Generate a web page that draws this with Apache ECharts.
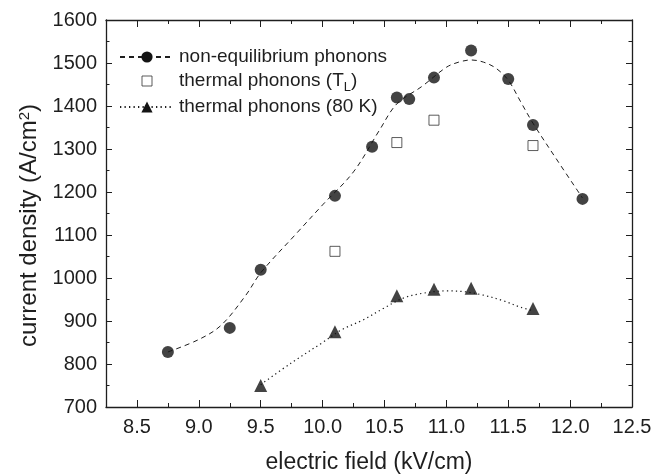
<!DOCTYPE html>
<html>
<head>
<meta charset="utf-8">
<script src="https://cdn.jsdelivr.net/npm/echarts@6/dist/echarts.min.js"></script>
<style>
html,body{margin:0;padding:0;background:#fff;}
#c{width:667px;height:474px;}
</style>
</head>
<body>
<div id="c"></div>
<script>
// ---- data ----
var neqField   = [8.75, 9.25, 9.5, 10.1, 10.4, 10.6, 10.7, 10.9, 11.2, 11.5, 11.7, 12.1];
var neqCurrent = [828, 884, 1019, 1191, 1305, 1420, 1416, 1466, 1529, 1463, 1356, 1184];

var tlField    = [10.1, 10.6, 10.9, 11.7];
var tlCurrent  = [1062, 1315, 1367, 1308];

var k80Field   = [9.5, 10.1, 10.6, 10.9, 11.2, 11.7];
var k80Current = [750, 875, 959, 974, 976, 929];

// fitted guide curves
var neqFitField   = [8.75, 9.0, 9.18, 9.38, 9.5, 9.79, 10.0, 10.25, 10.46, 10.6, 10.8, 11.0, 11.1, 11.2, 11.3, 11.4, 11.5, 11.6, 11.7, 11.9, 12.1];
var neqFitCurrent = [828, 857, 890, 960, 1012, 1104, 1170, 1247, 1344, 1405, 1445, 1490, 1502, 1507, 1502, 1488, 1460, 1410, 1360, 1272, 1186];

var k80FitField   = [9.5, 9.75, 10.0, 10.15, 10.33, 10.49, 10.65, 10.8, 11.0, 11.15, 11.3, 11.46, 11.6, 11.7];
var k80FitCurrent = [752, 803, 850, 879, 903, 929, 953, 964, 970, 968, 960, 947, 932, 924];

var xTickLabels = [8.5, 9.0, 9.5, 10.0, 10.5, 11.0, 11.5, 12.0, 12.5];
var yTickLabels = [700, 800, 900, 1000, 1100, 1200, 1300, 1400, 1500, 1600];

var names = ['non-equilibrium phonons', 'thermal phonons (TL)', 'thermal phonons (80 K)'];

function pairs(xs, ys){ return xs.map(function(x,i){ return [x, ys[i]]; }); }

var FONT = '"Liberation Sans", Arial, Helvetica, sans-serif';
var INK = '#1e1e1e';
var MARK = '#141414';
var xMin = 8.25, xMax = 12.5, yMin = 700, yMax = 1600;

var chart = echarts.init(document.getElementById('c'), null, {renderer:'canvas'});

function xAxisBase(pos){
  return {
    type:'value', position:pos, min:xMin, max:xMax, gridIndex:0,
    axisLine:{show:true, onZero:false, lineStyle:{color:INK, width:1.3}},
    splitLine:{show:false}
  };
}
function yAxisBase(pos){
  return {
    type:'value', position:pos, min:yMin, max:yMax, interval:100, gridIndex:0,
    axisLine:{show:true, onZero:false, lineStyle:{color:INK, width:1.3}},
    axisTick:{show:true, inside:true, length:6, lineStyle:{color:INK, width:1}},
    minorTick:{show:true, splitNumber:2, length:3.5, lineStyle:{color:INK, width:1}},
    splitLine:{show:false}
  };
}

var xAxes = [];
var xb = xAxisBase('bottom');
xb.axisTick = {show:true, inside:true, length:7, customValues:xTickLabels, lineStyle:{color:INK, width:1}};
xb.axisLabel = {show:true, customValues:xTickLabels, margin:10, fontSize:20, fontFamily:FONT, color:INK,
  formatter:function(v){ return v.toFixed(1); }};
xb.name = 'electric field (kV/cm)';
xb.nameLocation = 'middle';
xb.nameGap = 44;
xb.nameTextStyle = {fontSize:23, fontFamily:FONT, color:INK};
xAxes.push(xb);
var xbm = xAxisBase('bottom');
xbm.interval = 0.25;
xbm.axisLine = {show:false, onZero:false};
xbm.axisTick = {show:true, inside:true, length:4, lineStyle:{color:INK, width:1}};
xbm.axisLabel = {show:false};
xAxes.push(xbm);
var xt = xAxisBase('top');
xt.axisTick = {show:true, inside:true, length:7, customValues:xTickLabels, lineStyle:{color:INK, width:1}};
xt.axisLabel = {show:false, customValues:xTickLabels};
xAxes.push(xt);
var xtm = xAxisBase('top');
xtm.interval = 0.25;
xtm.axisLine = {show:false, onZero:false};
xtm.axisTick = {show:true, inside:true, length:4, lineStyle:{color:INK, width:1}};
xtm.axisLabel = {show:false};
xAxes.push(xtm);

var yl = yAxisBase('left');
yl.axisLabel = {show:true, customValues:yTickLabels, margin:9, fontSize:20, fontFamily:FONT, color:INK,
  formatter:function(v){ return String(v); }};
yl.name = 'current density (A/cm{sup|2})';
yl.nameLocation = 'middle';
yl.nameGap = 55;
yl.nameTextStyle = {fontSize:24, fontFamily:FONT, color:INK, padding:[0,24,0,0],
  rich:{sup:{fontSize:15, fontFamily:FONT, color:INK, verticalAlign:'top', lineHeight:15}}};
var yr = yAxisBase('right');
yr.axisLabel = {show:false};

var option = {
  animation:false,
  backgroundColor:'#fff',
  grid:{left:106, right:35, top:20, bottom:67, containLabel:false, outerBoundsMode:'none'},
  legend:{
    left:119, top:46, orient:'vertical', padding:0, itemGap:2,
    itemWidth:54, itemHeight:14, symbolKeepAspect:true,
    textStyle:{fontSize:19, fontFamily:FONT, color:INK, lineHeight:22,
      rich:{sub:{fontSize:13, fontFamily:FONT, color:INK, verticalAlign:'bottom', lineHeight:13, padding:[0,0,-2,0]}}},
    formatter:function(n){ return n === names[1] ? 'thermal phonons (T{sub|L})' : n; },
    data:[
      {name:names[0]},
      {name:names[1], icon:'path://M0,0M14,14M2,2H12V12H2Z', itemStyle:{color:'#fff', borderColor:'#333', borderWidth:1}},
      {name:names[2]}
    ]
  },
  xAxis:xAxes,
  yAxis:[yl, yr],
  series:[
    {
      name:names[0], type:'line', xAxisIndex:0, yAxisIndex:0,
      data:pairs(neqFitField, neqFitCurrent),
      smooth:0.35, symbol:'circle', showSymbol:false, symbolSize:12,
      lineStyle:{color:INK, width:1, type:[5,4]},
      itemStyle:{color:MARK}, z:2, silent:true
    },
    {
      name:names[0], type:'scatter', xAxisIndex:0, yAxisIndex:0,
      data:pairs(neqField, neqCurrent),
      symbol:'circle', symbolSize:12, itemStyle:{color:MARK}, z:5
    },
    {
      name:names[1], type:'scatter', xAxisIndex:0, yAxisIndex:0,
      data:pairs(tlField, tlCurrent),
      symbol:'rect', symbolSize:10,
      itemStyle:{color:'#fff', borderColor:'#333', borderWidth:1}, z:5
    },
    {
      name:names[2], type:'line', xAxisIndex:0, yAxisIndex:0,
      data:pairs(k80FitField, k80FitCurrent),
      smooth:0.35, symbol:'triangle', showSymbol:false, symbolSize:13,
      lineStyle:{color:INK, width:1.2, type:[1.3,3.2]},
      itemStyle:{color:MARK}, z:2, silent:true
    },
    {
      name:names[2], type:'scatter', xAxisIndex:0, yAxisIndex:0,
      data:pairs(k80Field, k80Current),
      symbol:'triangle', symbolSize:13, itemStyle:{color:MARK}, z:5
    }
  ]
};
chart.setOption(option);
</script>
</body>
</html>
